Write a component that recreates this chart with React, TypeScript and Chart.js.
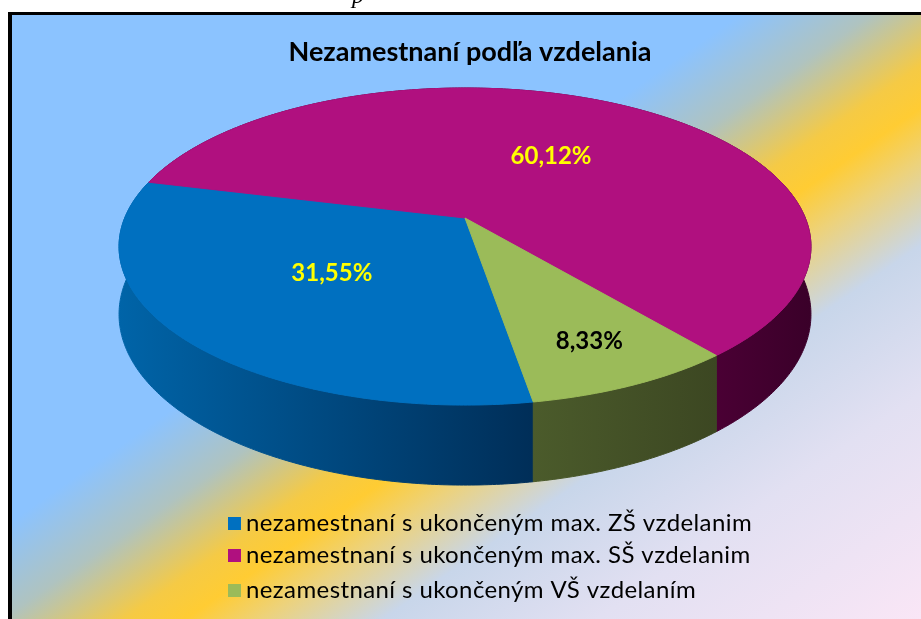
import React, { useEffect, useRef } from 'react';
import { Chart, registerables } from 'chart.js';

Chart.register(...registerables);

// ---- data ----
const chartTitle = 'Nezamestnaní podľa vzdelania';
const categories = [
  'nezamestnaní s ukončeným max. ZŠ vzdelanim',
  'nezamestnaní s ukončeným max. SŠ vzdelanim',
  'nezamestnaní s ukončeným VŠ vzdelaním',
];
const shares = [31.55, 60.12, 8.33];

// ---- styles ----
const TOP_COLORS = ['#0070C0', '#B0107F', '#9BBB59'];
const WALL_COLORS = [
  ['#0064A8', '#002E58'],
  ['#4A0034', '#3A0029'],
  ['#4B5B2B', '#3C4722'],
];
const LABEL_COLORS = ['#FFFF00', '#FFFF00', '#000000'];
const LABEL_RADIUS = [0.5, 0.51, 0.77];
const ROTATION = 170.5;

// perspective projection of the pie disk
const X0 = 465, Y0 = 218, RX = 340.3, RY = 153.4, PERSP = 0.18, DEPTH = 65.6;
function project(u: number, v: number, down = 0): [number, number] {
  const w = 1 - PERSP * v;
  return [X0 + (RX * u) / w, Y0 + (RY * v + down * DEPTH) / w];
}

const fmt = (v: number) => v.toFixed(2).replace('.', ',') + '%';

const pie3dPlugin = {
  id: 'pie3d',
  beforeDraw(chart: any) {
    const ctx = chart.ctx as CanvasRenderingContext2D;
    const W = chart.width, H = chart.height;
    ctx.save();
    ctx.fillStyle = '#ffffff';
    ctx.fillRect(0, 0, W, H);
    // background gradient
    const L = 1040;
    const g = ctx.createLinearGradient(0, 0, 0.57 * L, 0.82 * L);
    const stops: [number, string][] = [
      [0, '#8BC3FF'], [435, '#8BC3FF'], [510, '#AFC3C0'], [580, '#F5CA45'],
      [615, '#FFCC33'], [658, '#EDD27A'], [728, '#C8D6EA'], [850, '#E2E0F2'], [1040, '#FAE6F6'],
    ];
    stops.forEach(([s, c]) => g.addColorStop(s / L, c));
    ctx.fillStyle = g;
    ctx.fillRect(12, 15, W - 12, H - 15);
    // border
    ctx.fillStyle = '#000000';
    ctx.fillRect(8, 12, W - 8, 3);
    ctx.fillRect(8, 12, 4, H - 12);
    // stray document glyph
    ctx.font = 'italic 24px "Liberation Serif"';
    ctx.textAlign = 'left';
    ctx.textBaseline = 'alphabetic';
    ctx.fillText('p', 352, 3);
    // title
    ctx.font = 'bold 27px Lato';
    ctx.textAlign = 'center';
    ctx.textBaseline = 'middle';
    ctx.fillStyle = '#000000';
    ctx.fillText(chartTitle, 470, 52);
    ctx.restore();
  },
  beforeDatasetDraw(chart: any, args: any) {
    const ctx = chart.ctx as CanvasRenderingContext2D;
    const arcs = args.meta.data as any[];
    ctx.save();
    // walls
    arcs.forEach((arc, i) => {
      const s = arc.startAngle, e = arc.endAngle;
      const n = Math.max(2, Math.ceil((e - s) / 0.01));
      const top: [number, number][] = [];
      const bot: [number, number][] = [];
      let minX = Infinity, maxX = -Infinity;
      for (let k = 0; k <= n; k++) {
        const t = s + ((e - s) * k) / n;
        const u = Math.cos(t), v = Math.sin(t);
        const p = project(u, v, 0);
        top.push(p);
        bot.push(project(u, v, 1));
        if (v > PERSP) { minX = Math.min(minX, p[0]); maxX = Math.max(maxX, p[0]); }
      }
      if (!isFinite(minX)) return;
      ctx.beginPath();
      top.forEach((p, k) => (k ? ctx.lineTo(p[0], p[1]) : ctx.moveTo(p[0], p[1])));
      for (let k = bot.length - 1; k >= 0; k--) ctx.lineTo(bot[k][0], bot[k][1]);
      ctx.closePath();
      const g = ctx.createLinearGradient(minX, 0, Math.max(maxX, minX + 1), 0);
      g.addColorStop(0, WALL_COLORS[i][0]);
      g.addColorStop(1, WALL_COLORS[i][1]);
      ctx.fillStyle = g;
      ctx.strokeStyle = g;
      ctx.lineWidth = 1;
      ctx.fill();
      ctx.stroke();
    });
    // top faces
    const c = project(0, 0, 0);
    arcs.forEach((arc, i) => {
      const s = arc.startAngle, e = arc.endAngle;
      const n = Math.max(2, Math.ceil((e - s) / 0.01));
      ctx.beginPath();
      ctx.moveTo(c[0], c[1]);
      for (let k = 0; k <= n; k++) {
        const t = s + ((e - s) * k) / n;
        const p = project(Math.cos(t), Math.sin(t), 0);
        ctx.lineTo(p[0], p[1]);
      }
      ctx.closePath();
      const col = arc.options.backgroundColor || TOP_COLORS[i];
      ctx.fillStyle = col;
      ctx.strokeStyle = col;
      ctx.lineWidth = 1;
      ctx.fill();
      ctx.stroke();
    });
    // value labels
    ctx.font = 'bold 24px Lato';
    ctx.textAlign = 'center';
    ctx.textBaseline = 'middle';
    const data = chart.data.datasets[args.index].data as number[];
    arcs.forEach((arc, i) => {
      const mid = (arc.startAngle + arc.endAngle) / 2;
      const r = LABEL_RADIUS[i];
      const p = project(r * Math.cos(mid), r * Math.sin(mid), 0);
      ctx.fillStyle = LABEL_COLORS[i];
      ctx.fillText(fmt(data[i]), p[0], p[1]);
    });
    ctx.restore();
    return false;
  },
  afterDraw(chart: any) {
    const ctx = chart.ctx as CanvasRenderingContext2D;
    const labels = chart.data.labels as string[];
    const colors = chart.data.datasets[0].backgroundColor as string[];
    const rows = [523, 555, 590];
    ctx.save();
    ctx.font = '24px Lato';
    (ctx as any).letterSpacing = '0.4px';
    ctx.textAlign = 'left';
    ctx.textBaseline = 'middle';
    labels.forEach((lab, i) => {
      ctx.fillStyle = colors[i];
      ctx.fillRect(228, rows[i] - 6, 13, 13);
      ctx.fillStyle = '#000000';
      ctx.fillText(lab, 246, rows[i]);
    });
    ctx.restore();
  },
};

export default function App() {
  const ref = useRef<HTMLCanvasElement>(null);
  useEffect(() => {
    const canvas = ref.current;
    if (!canvas) return;
    const chart = new Chart(canvas, {
      type: 'pie',
      data: {
        labels: categories,
        datasets: [
          { data: shares, backgroundColor: TOP_COLORS, borderWidth: 0, rotation: ROTATION } as any,
        ],
      },
      options: {
        responsive: false,
        animation: false,
        rotation: ROTATION,
        events: [],
        plugins: {
          legend: { display: false },
          title: { display: false },
          tooltip: { enabled: false },
        },
      } as any,
      plugins: [pie3dPlugin as any],
    });
    return () => chart.destroy();
  }, []);
  return (
    <div style={{ position: 'fixed', left: 0, top: 0, width: 921, height: 619 }}>
      <canvas ref={ref} width={921} height={619} style={{ display: 'block' }} />
    </div>
  );
}
